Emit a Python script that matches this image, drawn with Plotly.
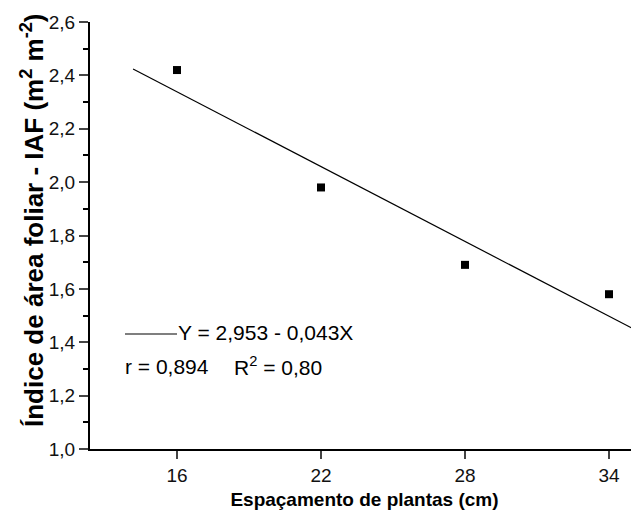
import plotly.graph_objects as go

espacamento = [16, 22, 28, 34]
iaf = [2.42, 1.98, 1.69, 1.58]
fit_x = [14.17, 35.25]
fit_y = [2.424, 1.439]
x_ticks = [16, 22, 28, 34]

fig = go.Figure()
fig.add_trace(go.Scatter(x=fit_x, y=fit_y, mode="lines",
                         line=dict(color="black", width=1.2), showlegend=False))
fig.add_trace(go.Scatter(x=espacamento, y=iaf, mode="markers",
                         marker=dict(symbol="square", size=8, color="black"), showlegend=False))

font_family = "Liberation Sans, Arial, sans-serif"
fig.update_layout(
    width=631, height=506,
    margin=dict(l=82, r=0, t=14, b=65),
    paper_bgcolor="white", plot_bgcolor="white",
    separators=",.",
    font=dict(family=font_family, color="black", size=18),
    xaxis=dict(range=[12.375, 35.25], tickvals=x_ticks, ticks="outside", ticklen=8,
               tickwidth=2, linecolor="black", linewidth=2, showline=True, automargin=False,
               showgrid=False, zeroline=False, tickfont=dict(size=19, color="#111"),
               title=dict(text="<b>Espaçamento de plantas (cm)</b>", font=dict(size=19), standoff=8)),
    yaxis=dict(range=[1.0, 2.6], dtick=0.2, tickformat=".1f", ticks="outside", ticklen=9,
               tickwidth=2, linecolor="black", linewidth=2, showline=True, automargin=False,
               showgrid=False, zeroline=False, tickfont=dict(size=19, color="#111"),
               minor=dict(dtick=0.1, ticks="outside", ticklen=5, tickwidth=1.5, tickcolor="black")),
)

# y-axis title as rotated annotation for precise placement
fig.add_annotation(xref="paper", yref="paper", x=0, xshift=-57, y=(449-220)/427,
                   text="<b>Índice de área foliar - IAF (m<sup>2</sup> m<sup>-2</sup>)</b>",
                   textangle=-90, showarrow=False, xanchor="center", yanchor="middle",
                   font=dict(size=26))

fig.add_shape(type="line", xref="paper", yref="paper", x0=(125-90)/549, x1=(177-90)/549,
              y0=(449-334)/427, y1=(449-334)/427, line=dict(color="black", width=1.2))
fig.add_annotation(xref="paper", yref="paper", x=(176-90)/549, y=(449-333)/427,
                   text="Y = 2,953 - 0,043X", showarrow=False, xanchor="left", yanchor="middle",
                   font=dict(size=21))
fig.add_annotation(xref="paper", yref="paper", x=(123-90)/549, y=(449-366)/427,
                   text="r = 0,894", showarrow=False, xanchor="left", yanchor="middle",
                   font=dict(size=21))
fig.add_annotation(xref="paper", yref="paper", x=(232-90)/549, y=(449-366)/427,
                   text="R<sup>2</sup> = 0,80", showarrow=False, xanchor="left", yanchor="middle",
                   font=dict(size=21))

fig.write_html("out.html")
